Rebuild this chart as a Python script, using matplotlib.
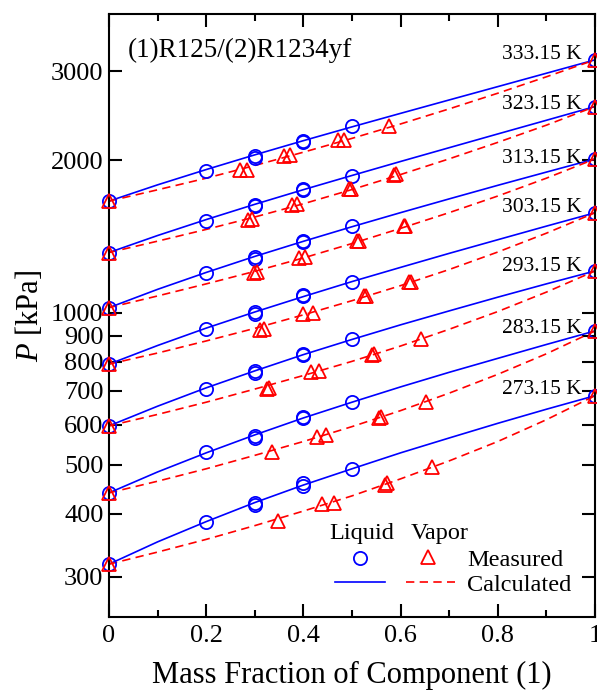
import matplotlib
matplotlib.use("Agg")
import matplotlib.pyplot as plt
from matplotlib.lines import Line2D

plt.rcParams['font.family'] = ['Liberation Serif', 'DejaVu Serif']
plt.rcParams['mathtext.fontset'] = 'custom'
plt.rcParams['mathtext.rm'] = 'Liberation Serif'
plt.rcParams['mathtext.it'] = 'Liberation Serif:italic'

# ---------------- data ----------------
temps = ["273.15 K", "283.15 K", "293.15 K", "303.15 K", "313.15 K", "323.15 K", "333.15 K"]

# calculated curves (read at mass fraction 0, 0.1, ..., 1.0)
x_calc = [0.0, 0.1, 0.2, 0.3, 0.4, 0.5, 0.6, 0.7, 0.8, 0.9, 1.0]
liq_calc = [
    [318, 352, 386, 421, 456, 491, 528, 565, 604, 644, 685],
    [440, 484, 528, 573, 619, 665, 713, 762, 812, 865, 920],
    [597, 653, 710, 767, 826, 885, 946, 1008, 1073, 1140, 1209],
    [791, 861, 932, 1003, 1076, 1152, 1229, 1310, 1394, 1483, 1576],
    [1023, 1112, 1201, 1292, 1384, 1479, 1577, 1679, 1786, 1897, 2014],
    [1315, 1421, 1528, 1638, 1751, 1868, 1991, 2120, 2257, 2402, 2557],
    [1662, 1790, 1919, 2052, 2189, 2331, 2479, 2635, 2800, 2976, 3163],
]
vap_calc = [
    [318, 336, 356, 379, 405, 434, 469, 509, 556, 614, 685],
    [440, 464, 491, 522, 556, 595, 640, 693, 755, 829, 920],
    [597, 629, 665, 706, 751, 801, 859, 927, 1005, 1098, 1209],
    [791, 832, 879, 931, 990, 1056, 1131, 1217, 1318, 1436, 1576],
    [1023, 1079, 1140, 1207, 1283, 1370, 1468, 1577, 1701, 1845, 2014],
    [1315, 1385, 1461, 1546, 1642, 1752, 1876, 2015, 2172, 2349, 2557],
    [1662, 1750, 1845, 1955, 2077, 2212, 2362, 2530, 2717, 2928, 3163],
]

# measured liquid
x_liq = [0.0, 0.2, 0.3, 0.3, 0.4, 0.4, 0.5, 1.0]
liq_meas = [
    [318, 386, 416, 420, 455, 460, 491, 685],
    [440, 529, 564, 570, 618, 622, 665, 920],
    [597, 706, 758, 765, 826, 830, 886, 1209],
    [791, 927, 992, 1001, 1077, 1082, 1150, 1576],
    [1023, 1199, 1278, 1289, 1378, 1384, 1483, 2014],
    [1315, 1517, 1622, 1636, 1750, 1755, 1867, 2557],
    [1662, 1904, 2020, 2045, 2180, 2185, 2336, 3163],
]

# measured vapor
x_vap = [
    [0.0, 0.348, 0.438, 0.463, 0.568, 0.573, 0.664, 1.0],
    [0.0, 0.335, 0.427, 0.446, 0.556, 0.560, 0.652, 1.0],
    [0.0, 0.326, 0.330, 0.415, 0.433, 0.541, 0.545, 0.643, 1.0],
    [0.0, 0.311, 0.318, 0.400, 0.420, 0.525, 0.529, 0.618, 0.622, 1.0],
    [0.0, 0.298, 0.304, 0.390, 0.403, 0.511, 0.515, 0.606, 0.610, 1.0],
    [0.0, 0.285, 0.295, 0.376, 0.386, 0.494, 0.498, 0.586, 0.590, 1.0],
    [0.0, 0.270, 0.284, 0.361, 0.372, 0.472, 0.484, 0.577, 1.0],
]
vap_meas = [
    [318, 387, 418, 421, 457, 460, 494, 685],
    [440, 529, 567, 572, 618, 621, 665, 920],
    [597, 706, 708, 762, 765, 826, 830, 887, 1209],
    [791, 926, 930, 996, 1000, 1077, 1081, 1150, 1152, 1576],
    [1023, 1197, 1201, 1284, 1290, 1383, 1387, 1481, 1485, 2014],
    [1315, 1525, 1531, 1634, 1640, 1755, 1759, 1874, 1878, 2557],
    [1662, 1912, 1918, 2042, 2048, 2196, 2200, 2343, 3163],
]

# temperature label anchor pressures
label_p = [706, 931, 1236, 1612, 2014, 2578, 3236]

yticks = [300, 400, 500, 600, 700, 800, 900, 1000, 2000, 3000]
xticks = [0, 0.2, 0.4, 0.6, 0.8, 1]
xticklabels = ["0", "0.2", "0.4", "0.6", "0.8", "1"]

# ---------------- plot ----------------
BLUE = '#0000ff'
RED = '#ff0000'
fig = plt.figure(figsize=(5.97, 6.94), dpi=100)
ax = fig.add_axes([0.1826, 0.111, 0.814, 0.869])

lw = 1.2
dash = (5.0, 3.2)
for i in range(len(temps)):
    ax.plot(x_calc, liq_calc[i], color=BLUE, lw=lw, zorder=2)
    ax.plot(x_calc, vap_calc[i], color=RED, lw=lw, linestyle=(0, dash), zorder=2)
    ax.plot(x_liq, liq_meas[i], linestyle='none', marker='o', ms=9.5, mfc='none',
            mec=BLUE, mew=1.3, clip_on=False, zorder=3)
    ax.plot(x_vap[i], vap_meas[i], linestyle='none', marker='^', ms=10, mfc='none',
            mec=RED, mew=1.3, clip_on=False, zorder=4)
    ax.text(0.973, label_p[i], temps[i], transform=ax.get_yaxis_transform(),
            ha='right', va='center', fontsize=15.5)

ax.set_yscale('log')
ax.set_xlim(0, 1)
ax.set_ylim(250, 3900)
ax.set_yticks(yticks)
ax.set_yticklabels([str(v) for v in yticks])
ax.yaxis.set_minor_locator(matplotlib.ticker.NullLocator())
ax.set_xticks(xticks)
ax.set_xticklabels(xticklabels)
ax.set_xticks([0.1, 0.3, 0.5, 0.7, 0.9], minor=True)

ax.tick_params(which='both', direction='in', top=True, right=True, width=1.5, labelsize=19)
ax.tick_params(which='major', length=9.5)
ax.tick_params(which='minor', length=5)
ax.tick_params(axis='x', pad=6)
ax.tick_params(axis='y', pad=4)
for s in ax.spines.values():
    s.set_linewidth(1.5)

ax.set_xlabel('Mass Fraction of Component (1)', fontsize=22, labelpad=10)
ax.set_ylabel(r'$P$ [kPa]', fontsize=22, labelpad=4)

ax.text(0.039, 0.940, '(1)R125/(2)R1234yf', transform=ax.transAxes,
        ha='left', va='center', fontsize=19.5)

# custom legend
ax.text(0.520, 0.139, 'Liquid', transform=ax.transAxes, ha='center', va='center', fontsize=17.5)
ax.text(0.681, 0.139, 'Vapor', transform=ax.transAxes, ha='center', va='center', fontsize=17.5)
ax.add_line(Line2D([0.516], [0.098], transform=ax.transAxes, marker='o', ms=9.5,
                   mfc='none', mec=BLUE, mew=1.3, linestyle='none'))
ax.add_line(Line2D([0.656], [0.100], transform=ax.transAxes, marker='^', ms=10,
                   mfc='none', mec=RED, mew=1.3, linestyle='none'))
ax.text(0.737, 0.094, 'Measured', transform=ax.transAxes, ha='left', va='center', fontsize=17.5)
ax.add_line(Line2D([0.465, 0.568], [0.058, 0.058], transform=ax.transAxes,
                   color=BLUE, lw=lw))
ax.add_line(Line2D([0.612, 0.712], [0.058, 0.058], transform=ax.transAxes,
                   color=RED, lw=lw, linestyle=(0, dash)))
ax.text(0.737, 0.053, 'Calculated', transform=ax.transAxes, ha='left', va='center', fontsize=17.5)

fig.savefig('out.png', dpi=100)
